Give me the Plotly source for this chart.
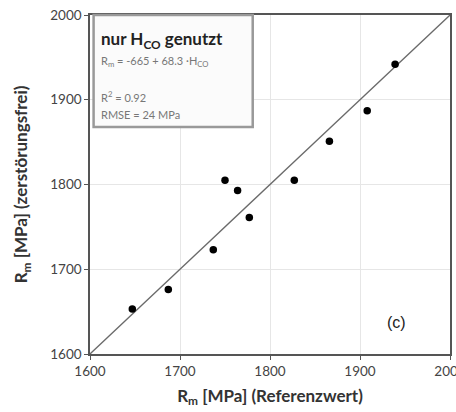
import plotly.graph_objects as go

ref_x = [1647, 1687, 1737, 1750, 1764, 1777, 1827, 1866, 1908, 1939]
est_y = [1653, 1676, 1723, 1805, 1793, 1761, 1805, 1851, 1887, 1942]
diag = [1600, 2000]
ticks = [1600, 1700, 1800, 1900, 2000]

fig = go.Figure()
fig.add_trace(go.Scatter(x=diag, y=diag, mode="lines",
                         line=dict(color="#6a6a6a", width=1.3), showlegend=False))
fig.add_trace(go.Scatter(x=ref_x, y=est_y, mode="markers",
                         marker=dict(color="black", size=7.5), showlegend=False))

axis_common = dict(range=[1600, 2000], tickvals=ticks, showgrid=True,
                   gridcolor="#e6e6e6", gridwidth=1, showline=True,
                   linecolor="#555555", linewidth=1.5, ticks="outside",
                   ticklen=4, tickcolor="#555555", zeroline=False,
                   ticklabeloverflow="allow", automargin=False,
                   tickfont=dict(family="Lato", size=13.5, color="#444444"))

fig.update_layout(
    width=456, height=412,
    margin=dict(l=90, r=6, t=15, b=58),
    paper_bgcolor="white", plot_bgcolor="white",
    xaxis=dict(**axis_common, mirror=True,
               title=dict(text="<b>R<sub>m</sub> [MPa] (Referenzwert)</b>",
                          font=dict(family="Lato", size=17, color="#333333"),
                          standoff=12)),
    yaxis=dict(**axis_common, mirror=True,
               title=dict(text="<b>R<sub>m</sub> [MPa] (zerstörungsfrei)</b>",
                          font=dict(family="Lato", size=17, color="#333333"),
                          standoff=18)),
)

# info box with shadow
fig.add_shape(type="rect", xref="paper", yref="paper",
              x0=0.01, x1=0.452, y0=(354 - 127) / 339, y1=1.0,
              line=dict(color="#999999", width=2.5), fillcolor="#fbfbfb")
fig.add_annotation(xref="paper", yref="paper", x=0.026, y=(354 - 40) / 339,
                   text="<b>nur H<sub>CO</sub> genutzt</b>", showarrow=False,
                   xanchor="left", yanchor="middle",
                   font=dict(family="Lato", size=17, color="#222222"))
fig.add_annotation(xref="paper", yref="paper", x=0.026, y=(354 - 62) / 339,
                   text="R<sub>m</sub> = -665 + 68.3 ·H<sub>CO</sub>", showarrow=False,
                   xanchor="left", yanchor="middle",
                   font=dict(family="Lato", size=11, color="#777777"))
fig.add_annotation(xref="paper", yref="paper", x=0.026, y=(354 - 96) / 339,
                   text="R<sup>2</sup> = 0.92", showarrow=False,
                   xanchor="left", yanchor="middle",
                   font=dict(family="Lato", size=11, color="#777777"))
fig.add_annotation(xref="paper", yref="paper", x=0.026, y=(354 - 114) / 339,
                   text="RMSE = 24 MPa", showarrow=False,
                   xanchor="left", yanchor="middle",
                   font=dict(family="Lato", size=11, color="#777777"))
fig.add_annotation(xref="paper", yref="paper", x=0.82, y=(354 - 322) / 339,
                   text="(c)", showarrow=False, xanchor="left", yanchor="middle",
                   font=dict(family="Liberation Sans", size=16, color="#222222"))

fig.write_html("out.html")
